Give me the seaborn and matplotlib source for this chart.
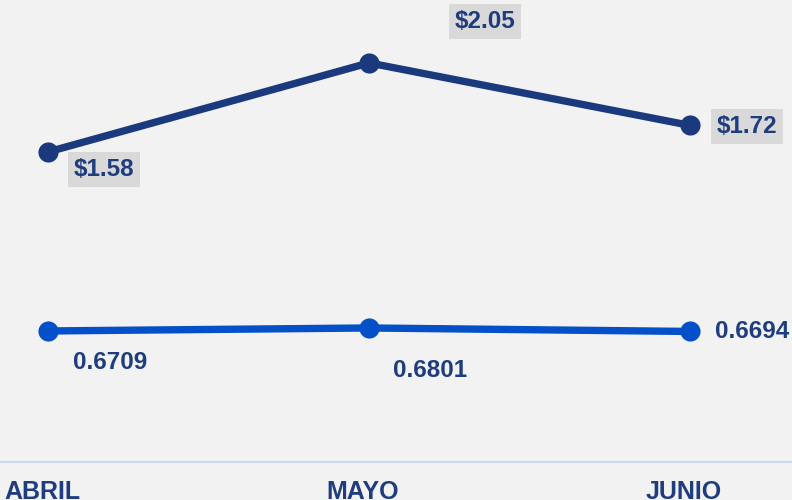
import matplotlib
matplotlib.use('Agg')
import matplotlib.pyplot as plt
import matplotlib.transforms as mtransforms
import seaborn as sns
import pandas as pd

# data
meses = ["ABRIL", "MAYO", "JUNIO"]
precio = [1.58, 2.05, 1.72]
tipo_cambio = [0.6709, 0.6801, 0.6694]

precio_labels = ["$1.58", "$2.05", "$1.72"]
tc_labels = ["0.6709", "0.6801", "0.6694"]

NAVY = "#1b3a7e"
BLUE = "#0450c8"
TEXT = "#1f3d7e"
BG = "#f2f2f2"

sns.set_style("white")
plt.rcParams['font.family'] = ['Liberation Sans', 'DejaVu Sans']

df = pd.DataFrame({"mes": meses, "pos": range(len(meses)),
                   "precio": precio, "tc": tipo_cambio})

fig = plt.figure(figsize=(7.92, 5.0), dpi=100, facecolor=BG)
ax = fig.add_axes([0, 0.076, 1, 0.924])
ax.set_facecolor(BG)
ax2 = ax.twinx()

sns.lineplot(data=df, x="pos", y="precio", ax=ax, color=NAVY, linewidth=5.3,
             marker="o", markersize=14.5, markeredgewidth=0)
sns.lineplot(data=df, x="pos", y="tc", ax=ax2, color=BLUE, linewidth=5.3,
             marker="o", markersize=14.5, markeredgewidth=0)

ax.set_xlim(-48 / 321, (792 - 48) / 321)
ax.set_ylim(-0.057, 2.382)
ax2.set_ylim(0.269, 1.686)

# value labels with grey boxes on the upper series
offsets_top = [(56, -18), (116, 41), (57, -1)]
for i, (v, lab) in enumerate(zip(precio, precio_labels)):
    ax.annotate(lab, (i, v), xytext=offsets_top[i], textcoords="offset pixels",
                ha="center", va="center", fontsize=17.5, fontweight="bold", color=TEXT,
                bbox=dict(boxstyle="square,pad=0.25", fc="#d9d9d9", ec="none"))

offsets_bot = [(62, -32), (61, -43), (62, 0)]
for i, (v, lab) in enumerate(zip(tipo_cambio, tc_labels)):
    ax2.annotate(lab, (i, v), xytext=offsets_bot[i], textcoords="offset pixels",
                 ha="center", va="center", fontsize=17.5, fontweight="bold", color=TEXT)

ax.set_xticks(df["pos"])
ax.set_xticklabels(meses, fontsize=18, fontweight="bold", color=TEXT)
ax.tick_params(axis="x", length=0, pad=13)
shift = mtransforms.ScaledTranslation(-6 / 100, 0, fig.dpi_scale_trans)
for lbl in ax.get_xticklabels():
    lbl.set_transform(lbl.get_transform() + shift)
ax.set_yticks([])
ax2.set_yticks([])
ax.set_xlabel("")
ax.set_ylabel("")
ax2.set_ylabel("")

for a in (ax, ax2):
    for s in ["top", "left", "right", "bottom"]:
        a.spines[s].set_visible(False)
ax.spines["bottom"].set_visible(True)
ax.spines["bottom"].set_color("#c6d9f1")
ax.spines["bottom"].set_linewidth(1.5)

fig.savefig("out.png", dpi=100, facecolor=BG)
